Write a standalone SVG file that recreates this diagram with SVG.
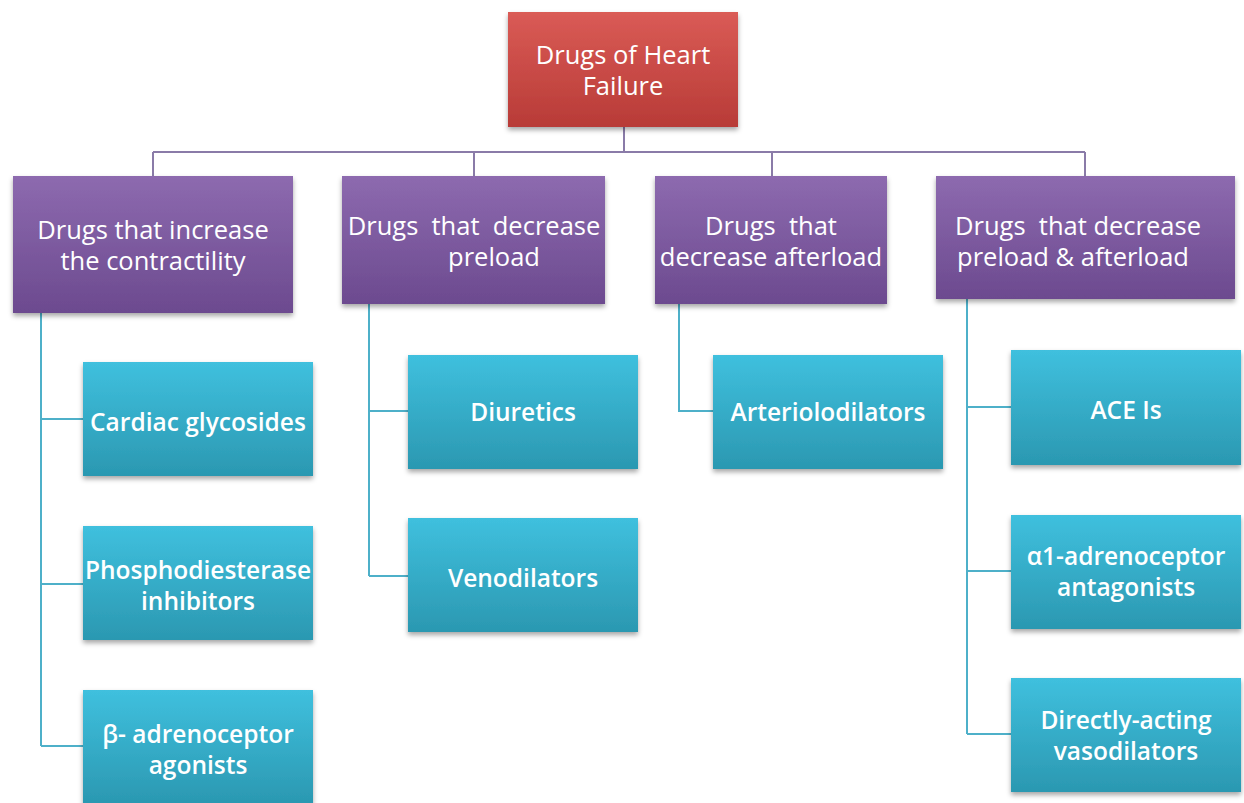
<svg xmlns="http://www.w3.org/2000/svg" width="1244" height="803" viewBox="0 0 1244 803">
<defs>
<linearGradient id="gRed" x1="0" y1="0" x2="0" y2="1"><stop offset="0" stop-color="#da5b56"/><stop offset="1" stop-color="#b83b37"/></linearGradient>
<linearGradient id="gPur" x1="0" y1="0" x2="0" y2="1"><stop offset="0" stop-color="#8d6aaf"/><stop offset="1" stop-color="#6c4a8f"/></linearGradient>
<linearGradient id="gTeal" x1="0" y1="0" x2="0" y2="1"><stop offset="0" stop-color="#3fc0de"/><stop offset="1" stop-color="#2b98b1"/></linearGradient>
<filter id="sh" x="-10%" y="-10%" width="120%" height="130%"><feDropShadow dx="0" dy="3" stdDeviation="2.5" flood-color="#000" flood-opacity="0.35"/></filter>
</defs>
<style>
.red{fill:url(#gRed);filter:url(#sh)}
.pur{fill:url(#gPur);filter:url(#sh)}
.teal{fill:url(#gTeal);filter:url(#sh)}
text{font-family:"Open Sans","Liberation Sans",sans-serif;fill:#fff;text-anchor:middle}
.t1{font-size:25.5px}
.t2{font-size:25.5px}
.t3{font-size:24.5px;font-weight:600}
.cp{fill:none;stroke:#8a7ba8;stroke-width:2}
.ct{fill:none;stroke:#4eb0c9;stroke-width:2}
</style>
<rect width="1244" height="803" fill="#fff"/>
<g id="connectors">
<path class="cp" d="M624 127V152M153 152H1085M153 152V176M474 152V176M772 152V176M1085 152V176"/>
<path class="ct" d="M41 313V746M41 419H83M41 584H83M41 746H83"/>
<path class="ct" d="M369 304V576M369 411H408M369 576H408"/>
<path class="ct" d="M679 304V411H713"/>
<path class="ct" d="M967 299V734M967 407H1011M967 571H1011M967 734H1011"/>
</g>
<g id="root"><rect class="red" x="508" y="12" width="230" height="115"/>
<text class="t1" x="623" y="64">Drugs of Heart</text><text class="t1" x="623" y="95">Failure</text></g>
<g id="increase"><rect class="pur" x="13" y="176" width="280" height="137"/>
<text class="t2" x="153" y="239">Drugs that increase</text><text class="t2" x="153" y="270">the contractility</text></g>
<g id="preload"><rect class="pur" x="342" y="176" width="263" height="128"/>
<text class="t2" x="474" y="235" xml:space="preserve">Drugs  that  decrease</text><text class="t2" x="494" y="266">preload</text></g>
<g id="afterload"><rect class="pur" x="655" y="176" width="232" height="128"/>
<text class="t2" x="771" y="235" xml:space="preserve">Drugs  that</text><text class="t2" x="771" y="266">decrease afterload</text></g>
<g id="both"><rect class="pur" x="936" y="176" width="299" height="123"/>
<text class="t2" x="1078" y="235" xml:space="preserve">Drugs  that decrease</text><text class="t2" x="1073" y="266">preload &amp; afterload</text></g>
<g id="cardiac"><rect class="teal" x="83" y="362" width="230" height="114"/><text class="t3" x="198" y="431">Cardiac glycosides</text></g>
<g id="pde"><rect class="teal" x="83" y="526" width="230" height="114"/><text class="t3" x="198" y="579">Phosphodiesterase</text><text class="t3" x="198" y="610">inhibitors</text></g>
<g id="beta"><rect class="teal" x="83" y="690" width="230" height="114"/><text class="t3" x="198" y="743">β- adrenoceptor</text><text class="t3" x="198" y="774">agonists</text></g>
<g id="diuretics"><rect class="teal" x="408" y="355" width="230" height="114"/><text class="t3" x="523" y="421">Diuretics</text></g>
<g id="veno"><rect class="teal" x="408" y="518" width="230" height="114"/><text class="t3" x="523" y="587">Venodilators</text></g>
<g id="arterio"><rect class="teal" x="713" y="355" width="230" height="114"/><text class="t3" x="828" y="421">Arteriolodilators</text></g>
<g id="ace"><rect class="teal" x="1011" y="350" width="230" height="115"/><text class="t3" x="1126" y="419">ACE Is</text></g>
<g id="alpha"><rect class="teal" x="1011" y="515" width="230" height="114"/><text class="t3" x="1126" y="565">α1-adrenoceptor</text><text class="t3" x="1126" y="596">antagonists</text></g>
<g id="direct"><rect class="teal" x="1011" y="678" width="230" height="114"/><text class="t3" x="1126" y="729">Directly-acting</text><text class="t3" x="1126" y="760">vasodilators</text></g>
</svg>
